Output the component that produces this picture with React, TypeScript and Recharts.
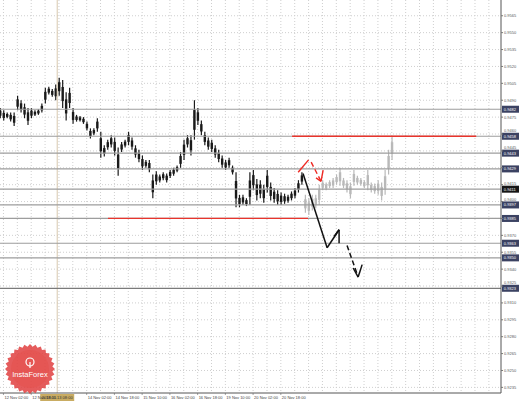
import { ComposedChart, Bar, XAxis, YAxis, CartesianGrid, ReferenceLine } from "recharts";

// H2 bars (price high / low)
const blackHigh = [
  0.9483, 0.9481, 0.9479, 0.9479, 0.9479, 0.9494, 0.949, 0.9487, 0.9483, 0.9483,
  0.9481, 0.9482, 0.9487, 0.9501, 0.9502, 0.95, 0.9504, 0.951, 0.9508, 0.9497,
  0.9501, 0.9483, 0.9477, 0.9476, 0.9475, 0.9471, 0.9465, 0.9465, 0.9474, 0.9462,
  0.945, 0.9455, 0.9459, 0.9457, 0.9448, 0.9453, 0.9455, 0.9462, 0.9457, 0.945,
  0.9446, 0.9441, 0.9437, 0.9437, 0.9424, 0.9427, 0.9424, 0.9426, 0.9425, 0.9428,
  0.943, 0.9432, 0.9444, 0.9455, 0.9459, 0.9459, 0.949, 0.9483, 0.9472, 0.9462,
  0.9457, 0.9455, 0.945, 0.9446, 0.9441, 0.9437, 0.9439, 0.9432, 0.9426, 0.9406,
  0.9406, 0.9403, 0.9426, 0.9428, 0.942, 0.9419, 0.9415, 0.9428, 0.9417, 0.9412,
  0.941, 0.9408, 0.9407, 0.9406, 0.9409, 0.9412, 0.9419, 0.9426,
];
const blackLow = [
  0.9474, 0.9472, 0.9474, 0.9471, 0.9467, 0.9481, 0.9479, 0.9474, 0.9468, 0.9474,
  0.9476, 0.9477, 0.9479, 0.9487, 0.9495, 0.9493, 0.949, 0.9494, 0.9483, 0.9472,
  0.9483, 0.9469, 0.9471, 0.9471, 0.9469, 0.9463, 0.9456, 0.9459, 0.9462, 0.9439,
  0.944, 0.9446, 0.9448, 0.9441, 0.9423, 0.9444, 0.9448, 0.945, 0.9446, 0.9439,
  0.9435, 0.9428, 0.943, 0.9426, 0.9403, 0.9415, 0.9417, 0.9419, 0.9417, 0.9421,
  0.9423, 0.9426, 0.943, 0.9437, 0.9448, 0.9441, 0.9455, 0.9468, 0.9459, 0.945,
  0.9446, 0.9444, 0.9439, 0.9435, 0.943, 0.9428, 0.943, 0.9424, 0.9395, 0.9395,
  0.9397, 0.9396, 0.9397, 0.941, 0.9401, 0.9403, 0.9399, 0.9408, 0.9401, 0.9399,
  0.9397, 0.9397, 0.9398, 0.9399, 0.9401, 0.9403, 0.9408, 0.9415,
];
// later price, pasted in grey
const grayHigh = [
  0.9406, 0.9403, 0.9406, 0.9406, 0.9415, 0.9419, 0.9417, 0.9419, 0.9421, 0.9424,
  0.943, 0.9421, 0.9419, 0.9417, 0.9428, 0.9423, 0.9421, 0.9419, 0.9428, 0.9417,
  0.9416, 0.9419, 0.9417, 0.9428, 0.9446, 0.9458,
];
const grayLow = [
  0.939, 0.9388, 0.9392, 0.9394, 0.9397, 0.941, 0.941, 0.9412, 0.9412, 0.9415,
  0.9414, 0.9412, 0.9408, 0.9403, 0.9414, 0.9415, 0.9414, 0.9412, 0.941, 0.9408,
  0.9407, 0.9406, 0.9401, 0.9406, 0.9424, 0.9437,
];

const levels = [0.9482, 0.9458, 0.9443, 0.9429, 0.9411, 0.9397, 0.9385, 0.9363, 0.935, 0.9323];
const bidLevel = 0.9411;

const redLevels = [
  { from: 168.5, to: 274.7, p: 0.9458 },
  { from: 62.3, to: 177.7, p: 0.9385 },
];

const redUp = [{ t: 172, p: 0.9426 }, { t: 178, p: 0.9437 }];
const redDown = [{ t: 179.5, p: 0.9435 }, { t: 185.2, p: 0.9418 }];
const redHead = [{ t: 182.3, p: 0.9421 }, { t: 185.2, p: 0.9418 }, { t: 186.4, p: 0.9428 }];
const blackPath = [{ t: 174.8, p: 0.9425 }, { t: 188.7, p: 0.9359 }, { t: 195.6, p: 0.9375 }];
const blackHead1 = [{ t: 192.7, p: 0.9369 }, { t: 195.6, p: 0.9375 }, { t: 195.6, p: 0.9363 }];
const blackDash = [{ t: 200.2, p: 0.9361 }, { t: 206.6, p: 0.9333 }];
const blackHead2 = [{ t: 203.7, p: 0.9341 }, { t: 206.6, p: 0.9333 }, { t: 208.9, p: 0.9344 }];

const yTicks = [
  0.9235, 0.925, 0.9265, 0.928, 0.9295, 0.931, 0.9325, 0.934, 0.9355, 0.937, 0.9385, 0.94,
  0.9415, 0.943, 0.9445, 0.946, 0.9475, 0.949, 0.9505, 0.952, 0.9535, 0.955, 0.9565,
];
const xLabelPos = [2, 18, 50, 66, 82, 98, 114, 130, 146, 162];
const xLabels = [
  "12 Nov 02:00", "12 Nov 18:00", "14 Nov 02:00", "14 Nov 18:00", "15 Nov 10:00",
  "16 Nov 02:00", "16 Nov 18:00", "19 Nov 10:00", "20 Nov 02:00", "20 Nov 18:00",
];
const cursorT = 33;
const cursorLabel = "2018.11.13 08:00";

const bars = [
  ...blackHigh.map((h, i) => ({ t: i * 2, range: [blackLow[i], h], kind: "b" })),
  ...grayHigh.map((h, i) => ({ t: (blackHigh.length + i) * 2, range: [grayLow[i], h], kind: "g" })),
];
const gridT = Array.from({ length: 36 }, (_, i) => 2 + i * 8);

const FONT = "Liberation Sans, Arial, sans-serif";
const FS = 4;
const PX_PER_PRICE = 393 / (0.9579 - 0.923);

function Candle(props: any) {
  const { x, y, width, height, payload } = props;
  const top = Math.min(y, y + height);
  const h = Math.abs(height);
  const cx = x + width / 2;
  const c = payload.kind === "b" ? "#1a1a1a" : "#b9b9b9";
  return (
    <g>
      <line x1={cx} x2={cx} y1={top} y2={top + h} stroke={c} strokeWidth={1.2} />
      <rect x={cx - 1.2} y={top + h * 0.25} width={2.4} height={Math.max(h * 0.5, 1)} fill={c} />
    </g>
  );
}

function XTick(props: any) {
  const { x, y, payload } = props;
  const i = xLabelPos.indexOf(payload.value);
  if (i < 0) return null;
  return (
    <g>
      <line x1={x} x2={x} y1={y} y2={y + 2} stroke="#666" strokeWidth={0.6} />
      <text x={x + 1} y={y + 5.8} fontSize={FS} fill="#444" fontFamily={FONT}>
        {xLabels[i]}
      </text>
    </g>
  );
}

function YTick(props: any) {
  const { y, payload } = props;
  const v = payload.value;
  let near = levels[0];
  for (const l of levels) if (Math.abs(l - v) < Math.abs(near - v)) near = l;
  const dPx = (v - near) * PX_PER_PRICE;
  if (Math.abs(dPx) < 1.5) return null; // hidden under the tag
  let shift = 0;
  if (Math.abs(dPx) < 5.4) shift = (dPx > 0 ? -1 : 1) * (5.4 - Math.abs(dPx));
  return (
    <text x={504} y={y + 1.4 + shift} fontSize={FS} fill="#555" fontFamily={FONT}>
      {v.toFixed(4)}
    </text>
  );
}

function Tag(props: any) {
  const { viewBox, value, dark } = props;
  const x = viewBox.x + viewBox.width + 1;
  const y = viewBox.y;
  return (
    <g>
      <rect x={x} y={y - 3.5} width={17} height={7} fill={dark ? "#151515" : "#3b4262"} />
      <text x={x + 1.8} y={y + 1.5} fontSize={FS} fill="#fff" fontFamily={FONT}>
        {value.toFixed(4)}
      </text>
    </g>
  );
}

function CursorBox(props: any) {
  const { viewBox } = props;
  const x = viewBox.x;
  const y = viewBox.y + viewBox.height;
  return (
    <g>
      <rect x={x - 17} y={y + 1} width={34} height={7} fill="#c9ac62" />
      <text x={x} y={y + 6} fontSize={FS} fill="#333" textAnchor="middle" fontFamily={FONT}>
        {cursorLabel}
      </text>
    </g>
  );
}

function segments(pts: { t: number; p: number }[]) {
  const out: [{ x: number; y: number }, { x: number; y: number }][] = [];
  for (let i = 1; i < pts.length; i++) {
    out.push([{ x: pts[i - 1].t, y: pts[i - 1].p }, { x: pts[i].t, y: pts[i].p }]);
  }
  return out;
}

function Logo() {
  const cx = 30;
  const cy = 369;
  const pts = Array.from({ length: 56 }, (_, i) => {
    const a = (i / 56) * Math.PI * 2;
    const r = i % 2 === 0 ? 25 : 22.5;
    return `${cx + r * Math.cos(a)},${cy + r * Math.sin(a)}`;
  }).join(" ");
  return (
    <svg width={519} height={402} style={{ position: "absolute", left: 0, top: 0, pointerEvents: "none" }}>
      <polygon points={pts} fill="#e0403f" opacity={0.85} />
      <circle cx={cx} cy={cy} r={19} fill="#e4514f" opacity={0.6} />
      <circle cx={cx} cy={cy - 7} r={4} fill="none" stroke="#fff" strokeWidth={1.2} />
      <line x1={cx} x2={cx} y1={cy - 7} y2={cy - 1} stroke="#fff" strokeWidth={1.2} />
      <text x={cx} y={cy + 8} fontSize={7.5} fill="#fff" textAnchor="middle" fontFamily={FONT}>
        InstaForex
      </text>
    </svg>
  );
}

export default function App() {
  return (
    <div style={{ position: "absolute", left: 0, top: 0, width: 519, height: 402, background: "#fff" }}>
      <ComposedChart width={519} height={402} data={bars} margin={{ top: 0, right: 0, bottom: 0, left: 0 }}>
        <CartesianGrid stroke="#cfcfcf" strokeDasharray="1 2" verticalValues={gridT} horizontalValues={yTicks} />
        <XAxis
          dataKey="t"
          type="number"
          domain={[0, 289]}
          ticks={gridT}
          tick={<XTick />}
          tickLine={false}
          tickSize={0}
          tickMargin={0}
          height={9}
          axisLine={{ stroke: "#555" }}
          interval={0}
          allowDataOverflow
        />
        <YAxis
          orientation="right"
          type="number"
          domain={[0.923, 0.9579]}
          ticks={yTicks}
          tick={<YTick />}
          tickSize={2}
          tickLine={{ stroke: "#777" }}
          width={18}
          axisLine={{ stroke: "#555" }}
          interval={0}
          allowDataOverflow
        />
        <ReferenceLine x={cursorT} stroke="#d8c8ae" strokeWidth={1} label={<CursorBox />} />
        {levels.map((v) => (
          <ReferenceLine
            key={v}
            y={v}
            stroke={v === 0.9323 ? "#7a7a7a" : "#9d9d9d"}
            strokeWidth={1.2}
            label={<Tag value={v} dark={v === bidLevel} />}
          />
        ))}
        <Bar dataKey="range" shape={<Candle />} barSize={2} isAnimationActive={false} />
        {redLevels.map((r) => (
          <ReferenceLine
            key={r.p}
            segment={[{ x: r.from, y: r.p }, { x: r.to, y: r.p }]}
            stroke="#e8342c"
            strokeWidth={1.3}
          />
        ))}
        {segments(redUp).map((s, i) => (
          <ReferenceLine key={"ru" + i} segment={s} stroke="#ee2a24" strokeWidth={1.4} />
        ))}
        {segments(redDown).map((s, i) => (
          <ReferenceLine key={"rd" + i} segment={s} stroke="#ee2a24" strokeWidth={1.4} strokeDasharray="5 3" />
        ))}
        {segments(redHead).map((s, i) => (
          <ReferenceLine key={"rh" + i} segment={s} stroke="#ee2a24" strokeWidth={1.4} />
        ))}
        {segments(blackPath).map((s, i) => (
          <ReferenceLine key={"bp" + i} segment={s} stroke="#111" strokeWidth={1.5} />
        ))}
        {segments(blackHead1).map((s, i) => (
          <ReferenceLine key={"bh" + i} segment={s} stroke="#111" strokeWidth={1.5} />
        ))}
        {segments(blackDash).map((s, i) => (
          <ReferenceLine key={"bd" + i} segment={s} stroke="#111" strokeWidth={1.5} strokeDasharray="5 3" />
        ))}
        {segments(blackHead2).map((s, i) => (
          <ReferenceLine key={"bk" + i} segment={s} stroke="#111" strokeWidth={1.5} />
        ))}
      </ComposedChart>
      <Logo />
    </div>
  );
}
